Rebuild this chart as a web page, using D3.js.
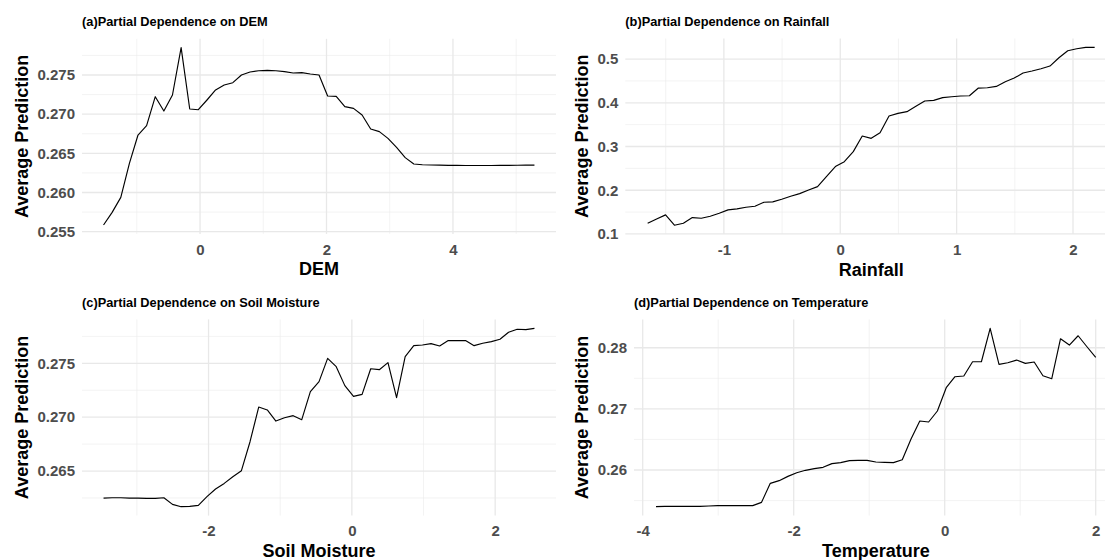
<!DOCTYPE html>
<html><head><meta charset="utf-8">
<script src="https://cdn.jsdelivr.net/npm/d3@7"></script>
<style>body{margin:0;background:#fff}svg{display:block}</style>
</head><body>
<svg id="chart" width="1105" height="560"></svg>
<script>
// ---------- data ----------
const demX = [-1.526,-1.390,-1.253,-1.117,-0.981,-0.845,-0.708,-0.572,-0.436,-0.299,-0.163,-0.027,0.110,0.246,0.382,0.519,0.655,0.791,0.927,1.064,1.200,1.336,1.473,1.609,1.745,1.882,2.018,2.154,2.290,2.427,2.563,2.699,2.836,2.972,3.108,3.245,3.381,3.517,3.653,3.790,3.926,4.062,4.199,4.335,4.471,4.608,4.744,4.880,5.016,5.153,5.289];
const demY = [0.25585,0.25747,0.25938,0.26372,0.26734,0.26853,0.27223,0.27040,0.27245,0.27849,0.27066,0.27057,0.27181,0.27309,0.27372,0.27402,0.27500,0.27538,0.27555,0.27560,0.27555,0.27543,0.27526,0.27530,0.27513,0.27500,0.27232,0.27228,0.27096,0.27074,0.26989,0.26811,0.26777,0.26691,0.26577,0.26445,0.26364,0.26355,0.26351,0.26349,0.26347,0.26346,0.26345,0.26345,0.26345,0.26345,0.26346,0.26347,0.26348,0.26349,0.26350];

const rainX = [-1.655,-1.578,-1.501,-1.425,-1.348,-1.271,-1.194,-1.117,-1.040,-0.964,-0.887,-0.810,-0.733,-0.656,-0.580,-0.503,-0.426,-0.349,-0.272,-0.195,-0.119,-0.042,0.035,0.112,0.189,0.266,0.342,0.419,0.496,0.573,0.650,0.726,0.803,0.880,0.957,1.034,1.110,1.187,1.264,1.341,1.418,1.495,1.571,1.648,1.725,1.802,1.879,1.955,2.032,2.109,2.186];
const rainY = [0.1245,0.1344,0.1436,0.1200,0.1245,0.1375,0.1360,0.1405,0.1474,0.1550,0.1573,0.1611,0.1634,0.1725,0.1733,0.1794,0.1862,0.1923,0.2007,0.2083,0.2312,0.2540,0.2654,0.2883,0.3241,0.3187,0.3317,0.3698,0.3759,0.3797,0.3919,0.4040,0.4056,0.4117,0.4139,0.4155,0.4162,0.4337,0.4345,0.4375,0.4482,0.4566,0.4680,0.4726,0.4779,0.4840,0.5030,0.5190,0.5236,0.5267,0.5267];

const soilX = [-3.465,-3.345,-3.224,-3.104,-2.984,-2.864,-2.743,-2.623,-2.503,-2.383,-2.262,-2.142,-2.022,-1.902,-1.781,-1.661,-1.541,-1.421,-1.300,-1.180,-1.060,-0.940,-0.819,-0.699,-0.579,-0.458,-0.338,-0.218,-0.098,0.023,0.143,0.263,0.383,0.504,0.624,0.744,0.864,0.985,1.105,1.225,1.345,1.466,1.586,1.706,1.826,1.947,2.067,2.187,2.307,2.428,2.548];
const soilY = [0.26249,0.26252,0.26252,0.26249,0.26249,0.26246,0.26246,0.26252,0.26190,0.26169,0.26172,0.26181,0.26262,0.26333,0.26385,0.26447,0.26503,0.26772,0.27094,0.27067,0.26964,0.26995,0.27014,0.26977,0.27237,0.27330,0.27546,0.27469,0.27293,0.27193,0.27212,0.27450,0.27441,0.27506,0.27181,0.27562,0.27664,0.27670,0.27683,0.27661,0.27711,0.27711,0.27711,0.27664,0.27686,0.27701,0.27723,0.27788,0.27816,0.27813,0.27825];

const tempX = [-3.824,-3.708,-3.591,-3.475,-3.358,-3.242,-3.125,-3.009,-2.892,-2.776,-2.659,-2.543,-2.426,-2.310,-2.193,-2.077,-1.960,-1.844,-1.727,-1.611,-1.494,-1.378,-1.261,-1.145,-1.028,-0.912,-0.795,-0.679,-0.562,-0.446,-0.330,-0.213,-0.097,0.020,0.136,0.253,0.369,0.486,0.602,0.719,0.835,0.952,1.068,1.185,1.301,1.418,1.534,1.651,1.767,1.884,2.000];
const tempY = [0.25400,0.25406,0.25406,0.25406,0.25406,0.25406,0.25411,0.25417,0.25417,0.25417,0.25417,0.25417,0.25471,0.25782,0.25826,0.25896,0.25956,0.25995,0.26022,0.26044,0.26104,0.26120,0.26153,0.26158,0.26158,0.26131,0.26125,0.26120,0.26169,0.26507,0.26801,0.26785,0.26965,0.27346,0.27526,0.27537,0.27771,0.27771,0.28316,0.27728,0.27755,0.27798,0.27744,0.27766,0.27542,0.27493,0.28147,0.28044,0.28196,0.28016,0.27842];

// tick values (labels)
const demXTicks = [0, 2, 4],        demXMinor = [-1, 1, 3, 5];
const demYTicks = [0.255, 0.260, 0.265, 0.270, 0.275], demYMinor = [0.2575, 0.2625, 0.2675, 0.2725, 0.2775];
const rainXTicks = [-1, 0, 1, 2],   rainXMinor = [-1.5, -0.5, 0.5, 1.5];
const rainYTicks = [0.1, 0.2, 0.3, 0.4, 0.5], rainYMinor = [0.15, 0.25, 0.35, 0.45];
const soilXTicks = [-2, 0, 2],      soilXMinor = [-3, -1, 1];
const soilYTicks = [0.265, 0.270, 0.275], soilYMinor = [0.2625, 0.2675, 0.2725, 0.2775];
const tempXTicks = [-4, -2, 0, 2],  tempXMinor = [-3, -1, 1];
const tempYTicks = [0.26, 0.27, 0.28], tempYMinor = [0.255, 0.265, 0.275];

const titles = ["(a)Partial Dependence on DEM", "(b)Partial Dependence on Rainfall",
                "(c)Partial Dependence on Soil Moisture", "(d)Partial Dependence on Temperature"];
const xLabels = ["DEM", "Rainfall", "Soil Moisture", "Temperature"];
const yLabel = "Average Prediction";

// ---------- layout ----------
const panels = [
  {xs: demX,  ys: demY,  xt: demXTicks,  xm: demXMinor,  yt: demYTicks,  ym: demYMinor,  yf: d3.format(".3f"),
   box: {l: 82,    r: 556,    t: 38.8,  b: 233.9}, yTitleX: 27.5},
  {xs: rainX, ys: rainY, xt: rainXTicks, xm: rainXMinor, yt: rainYTicks, ym: rainYMinor, yf: d3.format(".1f"),
   box: {l: 625.3, r: 1117,   t: 38.5,  b: 234.1}, yTitleX: 588},
  {xs: soilX, ys: soilY, xt: soilXTicks, xm: soilXMinor, yt: soilYTicks, ym: soilYMinor, yf: d3.format(".3f"),
   box: {l: 82,    r: 556,    t: 319.4, b: 515.6}, yTitleX: 27.5},
  {xs: tempX, ys: tempY, xt: tempXTicks, xm: tempXMinor, yt: tempYTicks, ym: tempYMinor, yf: d3.format(".2f"),
   box: {l: 634,   r: 1117.7, t: 319.5, b: 515.6}, yTitleX: 588}
];

const FONT = "'Liberation Sans', Arial, Helvetica, sans-serif";
const svg = d3.select("#chart");
const expand = (ext) => { const s = (ext[1] - ext[0]) * 0.05; return [ext[0] - s, ext[1] + s]; };

panels.forEach((p, i) => {
  const {l, r, t, b} = p.box;
  const x = d3.scaleLinear().domain(expand(d3.extent(p.xs))).range([l, r]);
  const y = d3.scaleLinear().domain(expand(d3.extent(p.ys))).range([b, t]);
  const g = svg.append("g");

  // minor grid
  g.selectAll(".xm").data(p.xm.filter(v => x(v) >= l && x(v) <= r)).join("line")
    .attr("x1", d => x(d)).attr("x2", d => x(d)).attr("y1", t).attr("y2", b)
    .attr("stroke", "#ebebeb").attr("stroke-width", 0.6);
  g.selectAll(".ym").data(p.ym.filter(v => y(v) >= t && y(v) <= b)).join("line")
    .attr("y1", d => y(d)).attr("y2", d => y(d)).attr("x1", l).attr("x2", r)
    .attr("stroke", "#ebebeb").attr("stroke-width", 0.6);
  // major grid
  g.append("g").selectAll("line").data(p.xt).join("line")
    .attr("x1", d => x(d)).attr("x2", d => x(d)).attr("y1", t).attr("y2", b)
    .attr("stroke", "#e8e8e8").attr("stroke-width", 1.3);
  g.append("g").selectAll("line").data(p.yt).join("line")
    .attr("y1", d => y(d)).attr("y2", d => y(d)).attr("x1", l).attr("x2", r)
    .attr("stroke", "#e8e8e8").attr("stroke-width", 1.3);

  // line
  const pts = p.xs.map((v, k) => [v, p.ys[k]]);
  g.append("path").datum(pts)
    .attr("fill", "none").attr("stroke", "#000").attr("stroke-width", 1.15)
    .attr("stroke-linejoin", "round")
    .attr("d", d3.line().x(d => x(d[0])).y(d => y(d[1])));

  // axes
  const xa = g.append("g").attr("transform", `translate(0,${b})`)
    .call(d3.axisBottom(x).tickValues(p.xt).tickSize(0).tickPadding(10).tickFormat(d3.format("d")));
  const ya = g.append("g").attr("transform", `translate(${l},0)`)
    .call(d3.axisLeft(y).tickValues(p.yt).tickSize(0).tickPadding(7).tickFormat(p.yf));
  [xa, ya].forEach(a => {
    a.select(".domain").remove();
    a.selectAll("text").attr("font-family", FONT).attr("font-size", 15)
      .attr("font-weight", "bold").attr("fill", "#4d4d4d");
  });
  xa.selectAll("text").text(d => d3.format("d")(d).replace("\u2212", "-"));

  // titles
  g.append("text").attr("x", l).attr("y", t - 12.8)
    .attr("font-family", FONT).attr("font-size", 12.8).attr("font-weight", "bold").attr("fill", "#000")
    .text(titles[i]);
  g.append("text").attr("x", (l + r) / 2).attr("y", b + 41.5).attr("text-anchor", "middle")
    .attr("font-family", FONT).attr("font-size", 18).attr("font-weight", "bold").attr("fill", "#000")
    .text(xLabels[i]);
  g.append("text").attr("transform", `translate(${p.yTitleX},${(t + b) / 2}) rotate(-90)`)
    .attr("text-anchor", "middle")
    .attr("font-family", FONT).attr("font-size", 18).attr("font-weight", "bold").attr("fill", "#000")
    .text(yLabel);
});
</script>
</body></html>
